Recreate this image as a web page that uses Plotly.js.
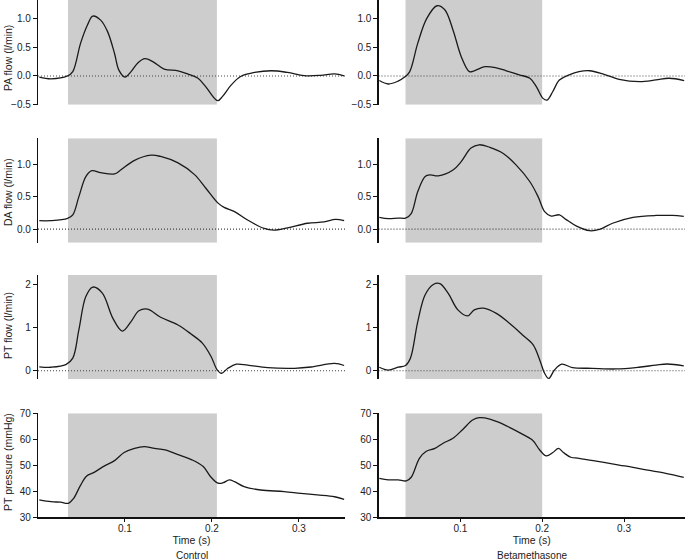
<!DOCTYPE html>
<html><head><meta charset="utf-8">
<script src="https://cdn.plot.ly/plotly-3.0.1.min.js"></script>
<style>html,body{margin:0;padding:0;background:#fff}#chart{width:685px;height:560px}</style>
</head><body><div id="chart"></div>
<script>
// ---- Data (time in s) ----
const t_pa_c = [0.0015,0.015,0.034,0.040,0.049,0.057,0.063,0.072,0.080,0.088,0.093,0.100,0.107,0.115,0.123,0.132,0.145,0.161,0.172,0.184,0.193,0.203,0.207,0.212,0.222,0.233,0.249,0.268,0.287,0.306,0.325,0.341,0.352];
const pa_c   = [-0.02,-0.05,0.0,0.075,0.57,0.89,1.04,0.97,0.77,0.39,0.10,-0.02,0.075,0.23,0.30,0.25,0.12,0.09,0.035,-0.04,-0.19,-0.39,-0.43,-0.36,-0.16,-0.01,0.06,0.09,0.06,0.005,0.01,0.035,0.0];
const t_pa_b = [0.001,0.012,0.024,0.032,0.038,0.048,0.059,0.0715,0.081,0.091,0.101,0.111,0.117,0.130,0.144,0.156,0.172,0.185,0.193,0.201,0.206,0.213,0.221,0.233,0.245,0.258,0.274,0.294,0.319,0.339,0.355,0.3735];
const pa_b   = [-0.08,-0.14,-0.09,-0.02,0.07,0.57,1.0,1.22,1.15,0.80,0.34,0.075,0.09,0.16,0.14,0.09,0.02,-0.04,-0.19,-0.39,-0.42,-0.27,-0.07,0.02,0.075,0.09,0.035,-0.06,-0.10,-0.07,-0.04,-0.08];

const t_da_c = [0.0015,0.015,0.034,0.040,0.047,0.055,0.062,0.072,0.088,0.095,0.111,0.130,0.141,0.161,0.180,0.193,0.207,0.214,0.226,0.241,0.260,0.271,0.287,0.310,0.329,0.342,0.352];
const da_c   = [0.13,0.13,0.165,0.22,0.50,0.81,0.90,0.87,0.85,0.91,1.06,1.14,1.12,1.02,0.84,0.63,0.40,0.335,0.27,0.14,0.01,-0.015,0.02,0.09,0.11,0.15,0.13];
const t_da_b = [0.001,0.012,0.024,0.033,0.040,0.048,0.057,0.063,0.073,0.091,0.101,0.113,0.123,0.136,0.152,0.168,0.185,0.195,0.203,0.211,0.221,0.229,0.242,0.258,0.270,0.286,0.311,0.339,0.359,0.373];
const da_b   = [0.18,0.16,0.17,0.17,0.24,0.58,0.81,0.835,0.82,0.91,1.04,1.25,1.30,1.26,1.17,0.99,0.73,0.50,0.27,0.20,0.22,0.15,0.045,-0.025,-0.005,0.09,0.18,0.21,0.21,0.196];

const t_pt_c = [0.0015,0.015,0.032,0.040,0.047,0.055,0.063,0.074,0.086,0.097,0.107,0.116,0.126,0.141,0.161,0.176,0.189,0.199,0.206,0.211,0.218,0.228,0.241,0.264,0.295,0.314,0.341,0.352];
const pt_c   = [0.09,0.08,0.14,0.29,0.95,1.72,1.94,1.80,1.22,0.92,1.14,1.39,1.43,1.24,1.06,0.85,0.64,0.33,0.02,-0.06,0.05,0.15,0.13,0.07,0.055,0.085,0.17,0.12];
const t_pt_b = [0.001,0.012,0.024,0.033,0.039,0.048,0.057,0.067,0.075,0.085,0.097,0.109,0.117,0.128,0.144,0.160,0.176,0.189,0.197,0.203,0.208,0.215,0.224,0.237,0.261,0.290,0.318,0.339,0.353,0.373];
const pt_b   = [0.08,0.015,0.08,0.12,0.29,1.14,1.76,2.0,2.02,1.80,1.41,1.27,1.41,1.45,1.33,1.10,0.83,0.60,0.25,-0.06,-0.18,0.015,0.15,0.07,0.055,0.04,0.08,0.13,0.155,0.11];

const t_pp_c = [0.0015,0.015,0.026,0.035,0.041,0.049,0.056,0.064,0.076,0.088,0.099,0.111,0.122,0.134,0.146,0.165,0.177,0.190,0.199,0.207,0.213,0.220,0.226,0.237,0.256,0.283,0.302,0.321,0.341,0.352];
const pp_c   = [36.7,36.0,35.8,35.4,37.3,42.4,45.9,47.2,49.7,51.8,54.9,56.5,57.2,56.5,55.9,53.6,52.1,49.5,45.4,43.1,43.3,44.4,43.7,41.8,40.5,39.9,39.2,38.6,37.9,36.9];
const t_pp_b = [0.001,0.012,0.024,0.034,0.040,0.050,0.058,0.069,0.079,0.091,0.103,0.115,0.123,0.136,0.148,0.160,0.174,0.188,0.197,0.205,0.213,0.220,0.226,0.235,0.245,0.270,0.294,0.311,0.327,0.351,0.373];
const pp_b   = [45.0,44.4,44.4,44.0,45.4,52.7,55.3,56.5,58.5,60.4,63.8,67.4,68.3,67.8,66.4,64.6,62.3,59.7,55.9,53.6,54.9,56.5,54.9,53.1,52.7,51.4,50.1,49.2,48.2,46.9,45.4];

const yTitles = ["PA flow (l/min)","DA flow (l/min)","PT flow (l/min)","PT pressure (mmHg)"];
const groupLabels = ["Control","Betamethasone"];
const xTickVals = [0.1,0.2,0.3];
const xTickText = ["0.1","0.2","0.3"];
const yTickVals = [[-0.5,0,0.5,1.0],[0,0.5,1.0],[0,1,2],[30,40,50,60,70]];
const yTickText = [["−0.5","0.0","0.5","1.0"],["0.0","0.5","1.0"],["0","1","2"],["30","40","50","60","70"]];
const shade = [[0.0345,0.2057],[0.033,0.200]];

// ---- Layout geometry ----
const W=685,H=560;
const xDom = [[38/W,345/W],[378.5/W,1]];
const xRange = [[0,0.353],[0,0.3745]];
const rowsPx = [[0,104.7],[138.3,242.7],[275,379.3],[413.3,517.3]];
const yRanges = [[-0.5,1.32],[-0.21,1.40],[-0.2,2.22],[30,70]];
const titleY = [58,192,326,462];

const series = [[[t_pa_c,pa_c],[t_pa_b,pa_b]],[[t_da_c,da_c],[t_da_b,da_b]],[[t_pt_c,pt_c],[t_pt_b,pt_b]],[[t_pp_c,pp_c],[t_pp_b,pp_b]]];

const FONT = "Liberation Sans, Arial, Helvetica, sans-serif";
const traces=[], shapes=[], annotations=[];
const layout = {width:W,height:H,margin:{l:0,r:0,t:0,b:0},paper_bgcolor:'#fff',plot_bgcolor:'rgba(0,0,0,0)',showlegend:false,font:{family:FONT,size:10,color:'#222'}};

for(let r=0;r<4;r++){
  for(let c=0;c<2;c++){
    const n = r*2+c+1;
    const xa = 'xaxis'+(n===1?'':n), ya='yaxis'+(n===1?'':n);
    const xr = 'x'+(n===1?'':n), yr='y'+(n===1?'':n);
    const bottom = r===3;
    layout[xa] = {domain:xDom[c],range:xRange[c],anchor:yr,showgrid:false,zeroline:false,
      visible:bottom,showline:bottom,linecolor:'#111',linewidth:1.2,ticks:bottom?'outside':'',ticklen:3,tickcolor:'#111',
      ticklabelstandoff:-2,
      tickvals:xTickVals,ticktext:xTickText,tickfont:{size:10,color:'#222'},
      title: bottom?{text:'Time (s)',font:{size:10.5,color:'#222'},standoff:3}:{text:''}};
    layout[ya] = {domain:[1-rowsPx[r][1]/H,1-rowsPx[r][0]/H],range:yRanges[r],anchor:xr,showgrid:false,zeroline:false,
      showline:true,linecolor:'#111',linewidth:1.2,ticks:'outside',ticklen:4,tickcolor:'#111',
      tickvals:yTickVals[r],ticktext:yTickText[r],tickfont:{size:10,color:'#222'}};
    shapes.push({type:'rect',xref:xr,yref:yr,x0:shade[c][0],x1:shade[c][1],y0:yRanges[r][0],y1:yRanges[r][1],fillcolor:'#cdcdcd',line:{width:0},layer:'below'});
    if(r<3){
      shapes.push({type:'line',xref:xr,yref:yr,x0:xRange[c][0],x1:xRange[c][1],y0:0,y1:0,line:{color:'#444',width:1.1,dash:'1px,2px'},layer:'below'});
    }
    traces.push({type:'scatter',mode:'lines',x:series[r][c][0],y:series[r][c][1],xaxis:xr,yaxis:yr,
      line:{color:'#1a1a1a',width:1.3,shape:'spline',smoothing:1},hoverinfo:'skip'});
  }
  annotations.push({xref:'paper',yref:'paper',x:8/W,y:1-titleY[r]/H,text:yTitles[r],textangle:-90,showarrow:false,
    xanchor:'center',yanchor:'middle',font:{size:10.5,color:'#222'}});
}
annotations.push({xref:'paper',yref:'paper',x:(38+345)/2/W,y:1-555.7/H,text:groupLabels[0],showarrow:false,xanchor:'center',yanchor:'middle',font:{size:10,color:'#222'}});
annotations.push({xref:'paper',yref:'paper',x:(378.5+685)/2/W,y:1-555.7/H,text:groupLabels[1],showarrow:false,xanchor:'center',yanchor:'middle',font:{size:10,color:'#222'}});
layout.shapes=shapes; layout.annotations=annotations;
Plotly.newPlot('chart',traces,layout,{staticPlot:true,displayModeBar:false});
</script></body></html>
